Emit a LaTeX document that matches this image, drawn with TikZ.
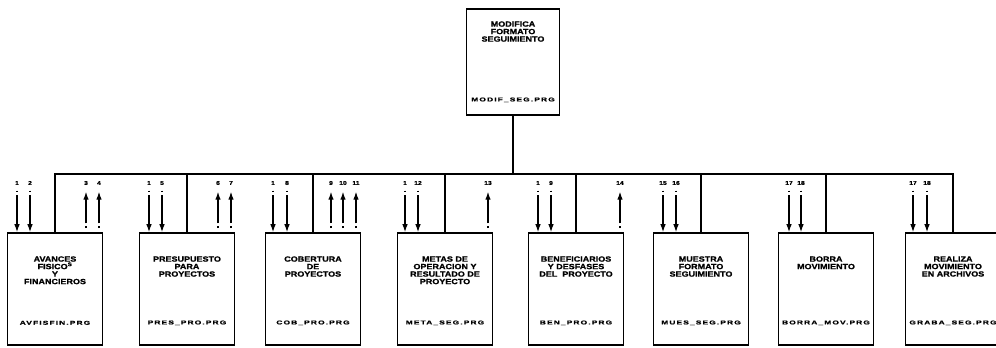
\documentclass[tikz,border=0pt]{standalone}
\usepackage{fontspec}
\setmainfont{Liberation Sans}
\newfontfamily\boxfont[FakeStretch=1.2,FakeBold=1.2]{Liberation Sans Bold}
\newfontfamily\filefont[FakeStretch=1.5,LetterSpace=20,FakeBold=1]{Liberation Sans Bold}
\usepackage{tikz}
\usetikzlibrary{arrows.meta,positioning}

\begin{document}
\begin{tikzpicture}[
  x=1pt, y=-1pt,
  prog/.style={draw, line width=1.6pt, minimum width=95pt, minimum height=112pt,
               inner sep=0pt},
  title/.style={font=\boxfont\fontsize{7.5}{7.5}\selectfont, align=center,
                anchor=north, inner sep=0pt},
  file/.style={font=\filefont\fontsize{5.6}{6}\selectfont, inner sep=0pt},
  num/.style={font=\boxfont\fontsize{5.6}{5.6}\selectfont, inner sep=0.5pt},
  link/.style={line width=1.1pt},
  inarr/.style={line width=1.2pt, -{Latex[length=8pt,width=5.5pt]},
                shorten <=5pt, dash pattern=on 1.8pt off 2.6pt on 80pt},
  outarr/.style={line width=1.2pt, -{Latex[length=8pt,width=5.5pt]},
                 shorten <=4pt, shorten >=6pt, dash pattern=on 1.8pt off 3pt on 80pt}
]
\useasboundingbox (0,0) rectangle (996,348);

% Main module
\node[prog, minimum width=93pt, minimum height=106pt] (modif) at (513,62) {};
\node[title] (modift) at ([yshift=-13pt]modif.north) {MODIFICA\\FORMATO\\SEGUIMIENTO};
\node[file] (modiff) at ([yshift=16pt]modif.south) {MODIF\_SEG.PRG};

% Sub modules
\node[prog] (avances) at (55,289) {};
\node[prog] (presup) at (187,289) {};
\node[prog] (cobert) at (313,289) {};
\node[prog] (metas) at (445,289) {};
\node[prog] (benef) at (576,289) {};
\node[prog] (muestra) at (701,289) {};
\node[prog] (borra) at (826,289) {};
\node[prog] (realiza) at (953,289) {};

\node[title] at ([yshift=-24pt]avances.north) {AVANCES\\FISICO\textsuperscript{S}\\Y\\FINANCIEROS};
\node[title] at ([yshift=-24pt]presup.north) {PRESUPUESTO\\PARA\\PROYECTOS};
\node[title] at ([yshift=-24pt]cobert.north) {COBERTURA\\DE\\PROYECTOS};
\node[title] at ([yshift=-24pt]metas.north) {METAS DE\\OPERACION Y\\RESULTADO DE\\PROYECTO};
\node[title] at ([yshift=-24pt]benef.north) {BENEFICIARIOS\\Y DESFASES\\DEL~~PROYECTO};
\node[title] at ([yshift=-24pt]muestra.north) {MUESTRA\\FORMATO\\SEGUIMIENTO};
\node[title] at ([yshift=-24pt]borra.north) {BORRA\\MOVIMIENTO};
\node[title] at ([yshift=-24pt]realiza.north) {REALIZA\\MOVIMIENTO\\EN ARCHIVOS};

\node[file] at ([yshift=23pt]avances.south) {AVFISFIN.PRG};
\node[file] at ([yshift=23pt]presup.south) {PRES\_PRO.PRG};
\node[file] at ([yshift=23pt]cobert.south) {COB\_PRO.PRG};
\node[file] at ([yshift=23pt]metas.south) {META\_SEG.PRG};
\node[file] at ([yshift=23pt]benef.south) {BEN\_PRO.PRG};
\node[file] at ([yshift=23pt]muestra.south) {MUES\_SEG.PRG};
\node[file] at ([yshift=23pt]borra.south) {BORRA\_MOV.PRG};
\node[file] at ([yshift=23pt]realiza.south) {GRABA\_SEG.PRG};

% Call tree
\coordinate (bus) at (513,174);
\draw[link] (modif.south) -- (bus);
\draw[link] (avances.north) |- (bus) -| (realiza.north);
\draw[link] (presup.north) -- (presup.north |- bus);
\draw[link] (cobert.north) -- (cobert.north |- bus);
\draw[link] (metas.north) -- (metas.north |- bus);
\draw[link] (benef.north) -- (benef.north |- bus);
\draw[link] (muestra.north) -- (muestra.north |- bus);
\draw[link] (borra.north) -- (borra.north |- bus);

% Data numbers
\node[num] (i1) at (17,183) {1};   \node[num] (i2) at (30,183) {2};
\node[num] (o3) at (86,183) {3};   \node[num] (o4) at (99,183) {4};
\node[num] (i5a) at (149,183) {1}; \node[num] (i5) at (162,183) {5};
\node[num] (o6) at (218,183) {6};  \node[num] (o7) at (231,183) {7};
\node[num] (i8a) at (273,183) {1}; \node[num] (i8) at (287,183) {8};
\node[num] (o9) at (331,183) {9};  \node[num] (o10) at (343,183) {10};
\node[num] (o11) at (356,183) {11};
\node[num] (i12a) at (405,183) {1}; \node[num] (i12) at (418,183) {12};
\node[num] (o13) at (488,183) {13};
\node[num] (i9a) at (538,183) {1}; \node[num] (i9) at (551,183) {9};
\node[num] (o14) at (620,183) {14};
\node[num] (i15) at (663,183) {15}; \node[num] (i16) at (676,183) {16};
\node[num] (i17a) at (789,183) {17}; \node[num] (i18a) at (801,183) {18};
\node[num] (i17b) at (913,183) {17}; \node[num] (i18b) at (927,183) {18};

% Inputs
\draw[inarr] (i1.south) -- (i1 |- avances.north);
\draw[inarr] (i2.south) -- (i2 |- avances.north);
\draw[inarr] (i5a.south) -- (i5a |- presup.north);
\draw[inarr] (i5.south) -- (i5 |- presup.north);
\draw[inarr] (i8a.south) -- (i8a |- cobert.north);
\draw[inarr] (i8.south) -- (i8 |- cobert.north);
\draw[inarr] (i12a.south) -- (i12a |- metas.north);
\draw[inarr] (i12.south) -- (i12 |- metas.north);
\draw[inarr] (i9a.south) -- (i9a |- benef.north);
\draw[inarr] (i9.south) -- (i9 |- benef.north);
\draw[inarr] (i15.south) -- (i15 |- muestra.north);
\draw[inarr] (i16.south) -- (i16 |- muestra.north);
\draw[inarr] (i17a.south) -- (i17a |- borra.north);
\draw[inarr] (i18a.south) -- (i18a |- borra.north);
\draw[inarr] (i17b.south) -- (i17b |- realiza.north);
\draw[inarr] (i18b.south) -- (i18b |- realiza.north);

% Outputs
\draw[outarr] (o3 |- avances.north) -- (o3.south);
\draw[outarr] (o4 |- avances.north) -- (o4.south);
\draw[outarr] (o6 |- presup.north) -- (o6.south);
\draw[outarr] (o7 |- presup.north) -- (o7.south);
\draw[outarr] (o9 |- cobert.north) -- (o9.south);
\draw[outarr] (o10 |- cobert.north) -- (o10.south);
\draw[outarr] (o11 |- cobert.north) -- (o11.south);
\draw[outarr] (o13 |- metas.north) -- (o13.south);
\draw[outarr] (o14 |- benef.north) -- (o14.south);

\end{tikzpicture}
\end{document}
